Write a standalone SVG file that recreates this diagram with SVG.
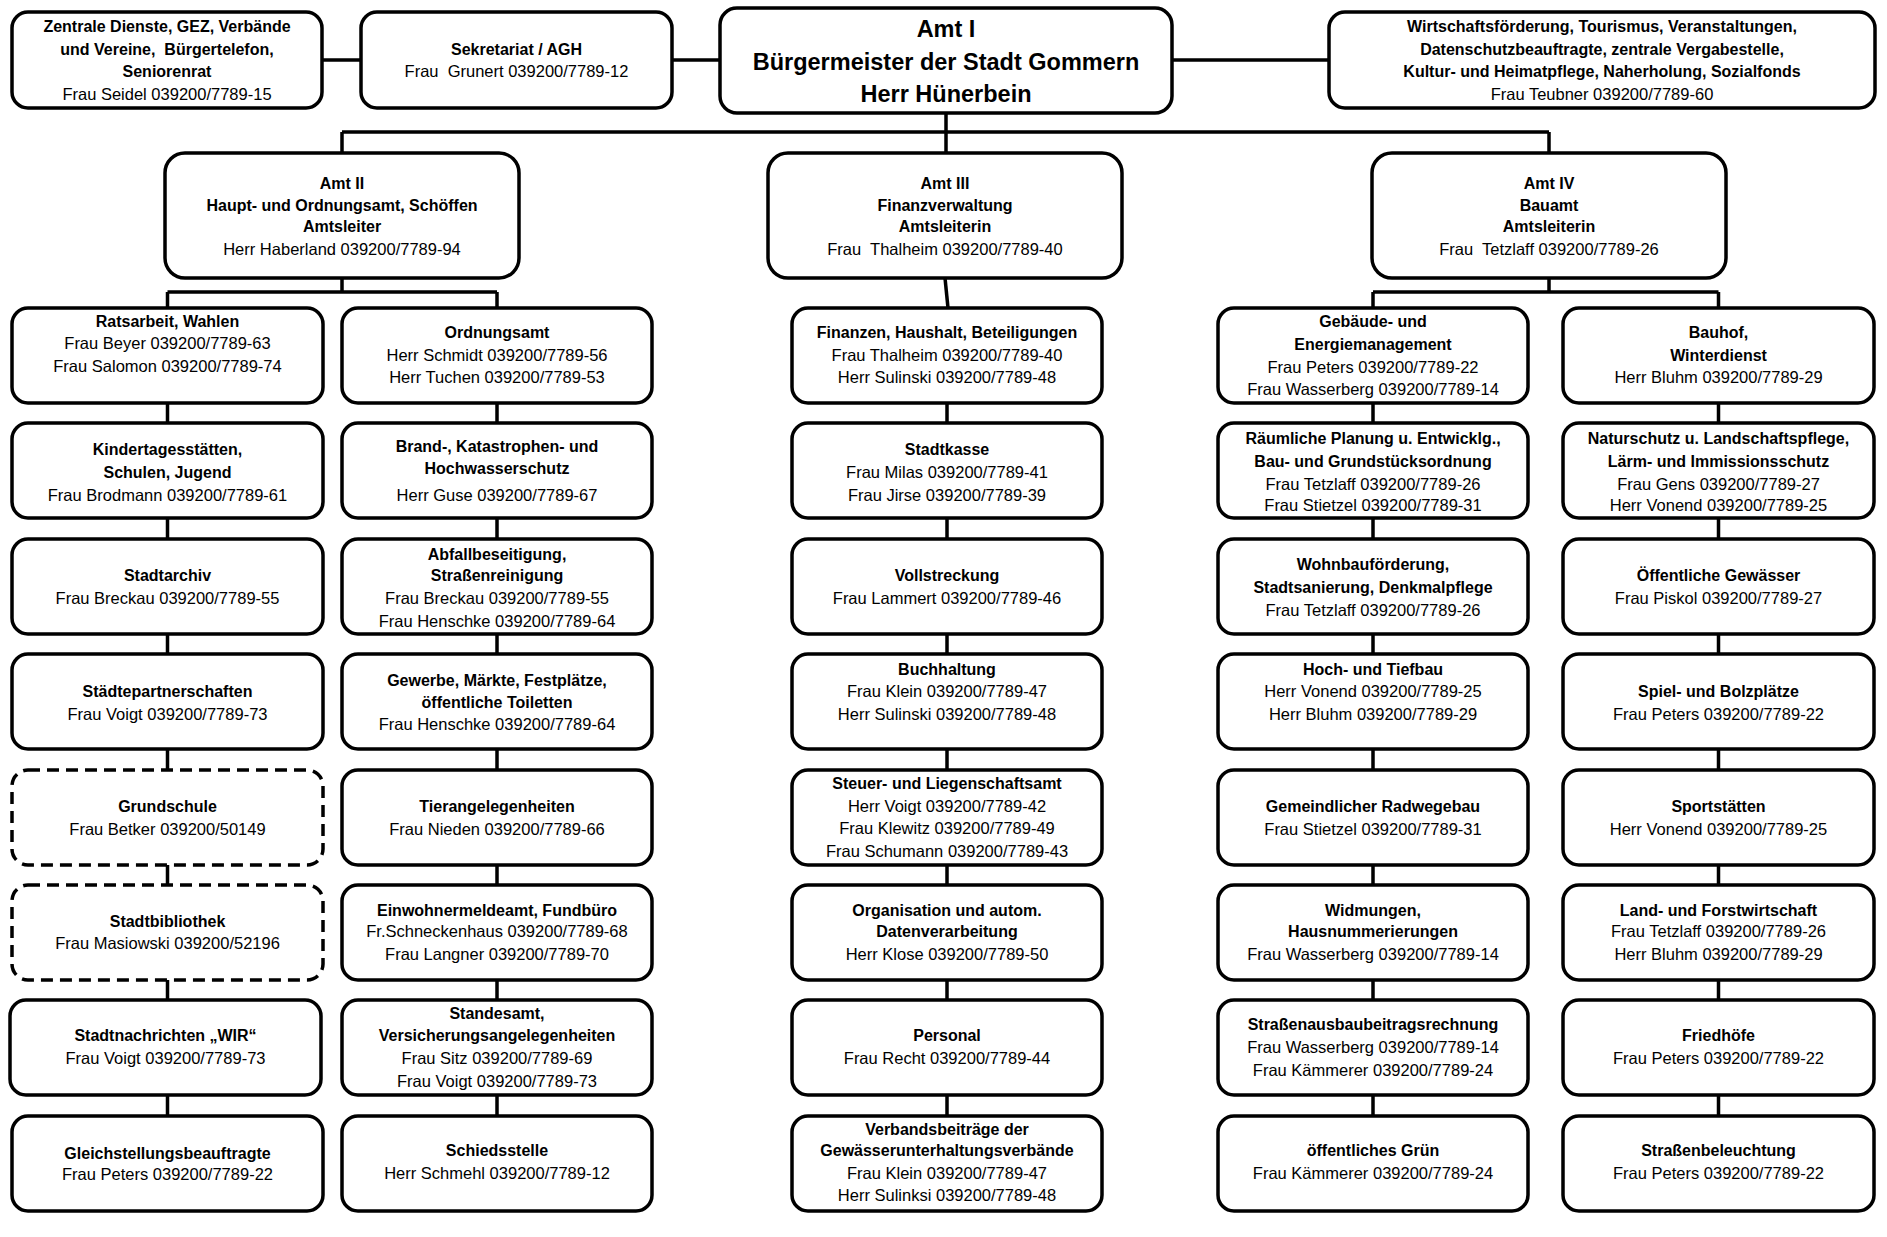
<svg xmlns="http://www.w3.org/2000/svg" width="1887" height="1237" viewBox="0 0 1887 1237">
<style>
.box{fill:#fff;stroke:#000;stroke-width:3.5}
.dash{stroke-dasharray:12 7}
.con{fill:none;stroke:#000;stroke-width:3.5}
text{font-family:"Liberation Sans",Arial,sans-serif;font-size:16.5px;text-anchor:middle;fill:#000}
.b{font-weight:bold;font-size:16px}
.big{font-weight:bold;font-size:23.5px}
.sb{font-weight:bold;font-size:16px}
</style>
<rect x="0" y="0" width="1887" height="1237" fill="#fff"/>
<g id="connectors">
<path class="con" d="M322 60H361M672 60H720M1172 60H1329"/>
<path class="con" d="M946 113V132M342 132H1549M342 132V153M946 132V153M1549 132V153"/>
<path class="con" d="M342 278V292M167.5 292H497M167.5 292V308M497 292V308"/>
<path class="con" d="M945 278L948 308"/>
<path class="con" d="M1549 278V292M1373 292H1718.5M1373 292V308M1718.5 292V308"/>
<path class="con" d="M167.5 403V423M167.5 518V539M167.5 634V654M167.5 749V770M167.5 865V885M167.5 980V1000M167.5 1095V1116"/>
<path class="con" d="M497 403V423M497 518V539M497 634V654M497 749V770M497 865V885M497 980V1000M497 1095V1116"/>
<path class="con" d="M947 403V423M947 518V539M947 634V654M947 749V770M947 865V885M947 980V1000M947 1095V1116"/>
<path class="con" d="M1373 403V423M1373 518V539M1373 634V654M1373 749V770M1373 865V885M1373 980V1000M1373 1095V1116"/>
<path class="con" d="M1718.5 403V423M1718.5 518V539M1718.5 634V654M1718.5 749V770M1718.5 865V885M1718.5 980V1000M1718.5 1095V1116"/>
</g>
<g id="zentrale"><rect class="box" x="12" y="12" width="310" height="96" rx="16"/>
<text class="b" x="167" y="32">Zentrale Dienste, GEZ, Verbände</text>
<text class="b" x="167" y="55">und Vereine,&#160; Bürgertelefon,</text>
<text class="b" x="167" y="77">Seniorenrat</text>
<text x="167" y="100">Frau Seidel 039200/7789-15</text></g>
<g id="sekretariat"><rect class="box" x="361" y="12" width="311" height="96" rx="16"/>
<text class="b" x="516.5" y="55">Sekretariat / AGH</text>
<text x="516.5" y="77">Frau&#160; Grunert 039200/7789-12</text></g>
<g id="amt1"><rect class="box" x="720" y="8" width="452" height="105" rx="17"/>
<text class="big" x="946" y="37">Amt I</text>
<text class="big" x="946" y="70">Bürgermeister der Stadt Gommern</text>
<text class="big" x="946" y="102">Herr Hünerbein</text></g>
<g id="wirtschaft"><rect class="box" x="1329" y="12" width="546" height="96" rx="16"/>
<text class="sb" x="1602" y="32">Wirtschaftsförderung, Tourismus, Veranstaltungen,</text>
<text class="sb" x="1602" y="55">Datenschutzbeauftragte, zentrale Vergabestelle,</text>
<text class="sb" x="1602" y="77">Kultur- und Heimatpflege, Naherholung, Sozialfonds</text>
<text x="1602" y="100">Frau Teubner 039200/7789-60</text></g>
<g id="amt2"><rect class="box" x="165" y="153" width="354" height="125" rx="20"/>
<text class="b" x="342" y="189">Amt II</text>
<text class="b" x="342" y="211">Haupt- und Ordnungsamt, Schöffen</text>
<text class="b" x="342" y="232">Amtsleiter</text>
<text x="342" y="255">Herr Haberland 039200/7789-94</text></g>
<g id="amt3"><rect class="box" x="768" y="153" width="354" height="125" rx="20"/>
<text class="b" x="945" y="189">Amt III</text>
<text class="b" x="945" y="211">Finanzverwaltung</text>
<text class="b" x="945" y="232">Amtsleiterin</text>
<text x="945" y="255">Frau&#160; Thalheim 039200/7789-40</text></g>
<g id="amt4"><rect class="box" x="1372" y="153" width="354" height="125" rx="20"/>
<text class="b" x="1549" y="189">Amt IV</text>
<text class="b" x="1549" y="211">Bauamt</text>
<text class="b" x="1549" y="232">Amtsleiterin</text>
<text x="1549" y="255">Frau&#160; Tetzlaff 039200/7789-26</text></g>

<g id="ratsarbeit"><rect class="box" x="12" y="308" width="311" height="95" rx="16"/>
<text class="b" x="167.5" y="327">Ratsarbeit, Wahlen</text>
<text x="167.5" y="349">Frau Beyer 039200/7789-63</text>
<text x="167.5" y="372">Frau Salomon 039200/7789-74</text></g>
<g id="kita"><rect class="box" x="12" y="423" width="311" height="95" rx="16"/>
<text class="b" x="167.5" y="455">Kindertagesstätten,</text>
<text class="b" x="167.5" y="478">Schulen, Jugend</text>
<text x="167.5" y="501">Frau Brodmann 039200/7789-61</text></g>
<g id="stadtarchiv"><rect class="box" x="12" y="539" width="311" height="95" rx="16"/>
<text class="b" x="167.5" y="581">Stadtarchiv</text>
<text x="167.5" y="604">Frau Breckau 039200/7789-55</text></g>
<g id="partner"><rect class="box" x="12" y="654" width="311" height="95" rx="16"/>
<text class="b" x="167.5" y="697">Städtepartnerschaften</text>
<text x="167.5" y="720">Frau Voigt 039200/7789-73</text></g>
<g id="grundschule"><rect class="box dash" x="12" y="770" width="311" height="95" rx="16"/>
<text class="b" x="167.5" y="812">Grundschule</text>
<text x="167.5" y="835">Frau Betker 039200/50149</text></g>
<g id="bibliothek"><rect class="box dash" x="12" y="885" width="311" height="95" rx="16"/>
<text class="b" x="167.5" y="927">Stadtbibliothek</text>
<text x="167.5" y="949">Frau Masiowski 039200/52196</text></g>
<g id="stadtnachrichten"><rect class="box" x="10" y="1000" width="311" height="95" rx="16"/>
<text class="b" x="165.5" y="1041">Stadtnachrichten „WIR“</text>
<text x="165.5" y="1064">Frau Voigt 039200/7789-73</text></g>
<g id="gleichstellung"><rect class="box" x="12" y="1116" width="311" height="95" rx="16"/>
<text class="b" x="167.5" y="1159">Gleichstellungsbeauftragte</text>
<text x="167.5" y="1180">Frau Peters 039200/7789-22</text></g>

<g id="ordnungsamt"><rect class="box" x="342" y="308" width="310" height="95" rx="16"/>
<text class="b" x="497" y="338">Ordnungsamt</text>
<text x="497" y="361">Herr Schmidt 039200/7789-56</text>
<text x="497" y="383">Herr Tuchen 039200/7789-53</text></g>
<g id="brand"><rect class="box" x="342" y="423" width="310" height="95" rx="16"/>
<text class="b" x="497" y="452">Brand-, Katastrophen- und</text>
<text class="b" x="497" y="474">Hochwasserschutz</text>
<text x="497" y="501">Herr Guse 039200/7789-67</text></g>
<g id="abfall"><rect class="box" x="342" y="539" width="310" height="95" rx="16"/>
<text class="b" x="497" y="560">Abfallbeseitigung,</text>
<text class="b" x="497" y="581">Straßenreinigung</text>
<text x="497" y="604">Frau Breckau 039200/7789-55</text>
<text x="497" y="627">Frau Henschke 039200/7789-64</text></g>
<g id="gewerbe"><rect class="box" x="342" y="654" width="310" height="95" rx="16"/>
<text class="b" x="497" y="686">Gewerbe, Märkte, Festplätze,</text>
<text class="b" x="497" y="708">öffentliche Toiletten</text>
<text x="497" y="730">Frau Henschke 039200/7789-64</text></g>
<g id="tier"><rect class="box" x="342" y="770" width="310" height="95" rx="16"/>
<text class="b" x="497" y="812">Tierangelegenheiten</text>
<text x="497" y="835">Frau Nieden 039200/7789-66</text></g>
<g id="einwohner"><rect class="box" x="342" y="885" width="310" height="95" rx="16"/>
<text class="b" x="497" y="916">Einwohnermeldeamt, Fundbüro</text>
<text x="497" y="937">Fr.Schneckenhaus 039200/7789-68</text>
<text x="497" y="960">Frau Langner 039200/7789-70</text></g>
<g id="standesamt"><rect class="box" x="342" y="1000" width="310" height="95" rx="16"/>
<text class="b" x="497" y="1019">Standesamt,</text>
<text class="b" x="497" y="1041">Versicherungsangelegenheiten</text>
<text x="497" y="1064">Frau Sitz 039200/7789-69</text>
<text x="497" y="1087">Frau Voigt 039200/7789-73</text></g>
<g id="schiedsstelle"><rect class="box" x="342" y="1116" width="310" height="95" rx="16"/>
<text class="b" x="497" y="1156">Schiedsstelle</text>
<text x="497" y="1179">Herr Schmehl 039200/7789-12</text></g>

<g id="finanzen"><rect class="box" x="792" y="308" width="310" height="95" rx="16"/>
<text class="b" x="947" y="338">Finanzen, Haushalt, Beteiligungen</text>
<text x="947" y="361">Frau Thalheim 039200/7789-40</text>
<text x="947" y="383">Herr Sulinski 039200/7789-48</text></g>
<g id="stadtkasse"><rect class="box" x="792" y="423" width="310" height="95" rx="16"/>
<text class="b" x="947" y="455">Stadtkasse</text>
<text x="947" y="478">Frau Milas 039200/7789-41</text>
<text x="947" y="501">Frau Jirse 039200/7789-39</text></g>
<g id="vollstreckung"><rect class="box" x="792" y="539" width="310" height="95" rx="16"/>
<text class="b" x="947" y="581">Vollstreckung</text>
<text x="947" y="604">Frau Lammert 039200/7789-46</text></g>
<g id="buchhaltung"><rect class="box" x="792" y="654" width="310" height="95" rx="16"/>
<text class="b" x="947" y="675">Buchhaltung</text>
<text x="947" y="697">Frau Klein 039200/7789-47</text>
<text x="947" y="720">Herr Sulinski 039200/7789-48</text></g>
<g id="steuer"><rect class="box" x="792" y="770" width="310" height="95" rx="16"/>
<text class="b" x="947" y="789">Steuer- und Liegenschaftsamt</text>
<text x="947" y="812">Herr Voigt 039200/7789-42</text>
<text x="947" y="834">Frau Klewitz 039200/7789-49</text>
<text x="947" y="857">Frau Schumann 039200/7789-43</text></g>
<g id="organisation"><rect class="box" x="792" y="885" width="310" height="95" rx="16"/>
<text class="b" x="947" y="916">Organisation und autom.</text>
<text class="b" x="947" y="937">Datenverarbeitung</text>
<text x="947" y="960">Herr Klose 039200/7789-50</text></g>
<g id="personal"><rect class="box" x="792" y="1000" width="310" height="95" rx="16"/>
<text class="b" x="947" y="1041">Personal</text>
<text x="947" y="1064">Frau Recht 039200/7789-44</text></g>
<g id="verbandsbeitraege"><rect class="box" x="792" y="1116" width="310" height="95" rx="16"/>
<text class="b" x="947" y="1135">Verbandsbeiträge der</text>
<text class="b" x="947" y="1156">Gewässerunterhaltungsverbände</text>
<text x="947" y="1179">Frau Klein 039200/7789-47</text>
<text x="947" y="1201">Herr Sulinksi 039200/7789-48</text></g>

<g id="gebaeude"><rect class="box" x="1218" y="308" width="310" height="95" rx="16"/>
<text class="b" x="1373" y="327">Gebäude- und</text>
<text class="b" x="1373" y="350">Energiemanagement</text>
<text x="1373" y="373">Frau Peters 039200/7789-22</text>
<text x="1373" y="395">Frau Wasserberg 039200/7789-14</text></g>
<g id="planung"><rect class="box" x="1218" y="423" width="310" height="95" rx="16"/>
<text class="b" x="1373" y="444">Räumliche Planung u. Entwicklg.,</text>
<text class="b" x="1373" y="467">Bau- und Grundstücksordnung</text>
<text x="1373" y="490">Frau Tetzlaff 039200/7789-26</text>
<text x="1373" y="511">Frau Stietzel 039200/7789-31</text></g>
<g id="wohnbau"><rect class="box" x="1218" y="539" width="310" height="95" rx="16"/>
<text class="b" x="1373" y="570">Wohnbauförderung,</text>
<text class="b" x="1373" y="593">Stadtsanierung, Denkmalpflege</text>
<text x="1373" y="616">Frau Tetzlaff 039200/7789-26</text></g>
<g id="hochbau"><rect class="box" x="1218" y="654" width="310" height="95" rx="16"/>
<text class="b" x="1373" y="675">Hoch- und Tiefbau</text>
<text x="1373" y="697">Herr Vonend 039200/7789-25</text>
<text x="1373" y="720">Herr Bluhm 039200/7789-29</text></g>
<g id="radwege"><rect class="box" x="1218" y="770" width="310" height="95" rx="16"/>
<text class="b" x="1373" y="812">Gemeindlicher Radwegebau</text>
<text x="1373" y="835">Frau Stietzel 039200/7789-31</text></g>
<g id="widmungen"><rect class="box" x="1218" y="885" width="310" height="95" rx="16"/>
<text class="b" x="1373" y="916">Widmungen,</text>
<text class="b" x="1373" y="937">Hausnummerierungen</text>
<text x="1373" y="960">Frau Wasserberg 039200/7789-14</text></g>
<g id="strassenausbau"><rect class="box" x="1218" y="1000" width="310" height="95" rx="16"/>
<text class="b" x="1373" y="1030">Straßenausbaubeitragsrechnung</text>
<text x="1373" y="1053">Frau Wasserberg 039200/7789-14</text>
<text x="1373" y="1076">Frau Kämmerer 039200/7789-24</text></g>
<g id="gruen"><rect class="box" x="1218" y="1116" width="310" height="95" rx="16"/>
<text class="b" x="1373" y="1156">öffentliches Grün</text>
<text x="1373" y="1179">Frau Kämmerer 039200/7789-24</text></g>

<g id="bauhof"><rect class="box" x="1563" y="308" width="311" height="95" rx="16"/>
<text class="b" x="1718.5" y="338">Bauhof,</text>
<text class="b" x="1718.5" y="361">Winterdienst</text>
<text x="1718.5" y="383">Herr Bluhm 039200/7789-29</text></g>
<g id="naturschutz"><rect class="box" x="1563" y="423" width="311" height="95" rx="16"/>
<text class="b" x="1718.5" y="444">Naturschutz u. Landschaftspflege,</text>
<text class="b" x="1718.5" y="467">Lärm- und Immissionsschutz</text>
<text x="1718.5" y="490">Frau Gens 039200/7789-27</text>
<text x="1718.5" y="511">Herr Vonend 039200/7789-25</text></g>
<g id="gewaesser"><rect class="box" x="1563" y="539" width="311" height="95" rx="16"/>
<text class="b" x="1718.5" y="581">Öffentliche Gewässer</text>
<text x="1718.5" y="604">Frau Piskol 039200/7789-27</text></g>
<g id="spielplaetze"><rect class="box" x="1563" y="654" width="311" height="95" rx="16"/>
<text class="b" x="1718.5" y="697">Spiel- und Bolzplätze</text>
<text x="1718.5" y="720">Frau Peters 039200/7789-22</text></g>
<g id="sportstaetten"><rect class="box" x="1563" y="770" width="311" height="95" rx="16"/>
<text class="b" x="1718.5" y="812">Sportstätten</text>
<text x="1718.5" y="835">Herr Vonend 039200/7789-25</text></g>
<g id="landwirtschaft"><rect class="box" x="1563" y="885" width="311" height="95" rx="16"/>
<text class="b" x="1718.5" y="916">Land- und Forstwirtschaft</text>
<text x="1718.5" y="937">Frau Tetzlaff 039200/7789-26</text>
<text x="1718.5" y="960">Herr Bluhm 039200/7789-29</text></g>
<g id="friedhoefe"><rect class="box" x="1563" y="1000" width="311" height="95" rx="16"/>
<text class="b" x="1718.5" y="1041">Friedhöfe</text>
<text x="1718.5" y="1064">Frau Peters 039200/7789-22</text></g>
<g id="beleuchtung"><rect class="box" x="1563" y="1116" width="311" height="95" rx="16"/>
<text class="b" x="1718.5" y="1156">Straßenbeleuchtung</text>
<text x="1718.5" y="1179">Frau Peters 039200/7789-22</text></g>
</svg>
